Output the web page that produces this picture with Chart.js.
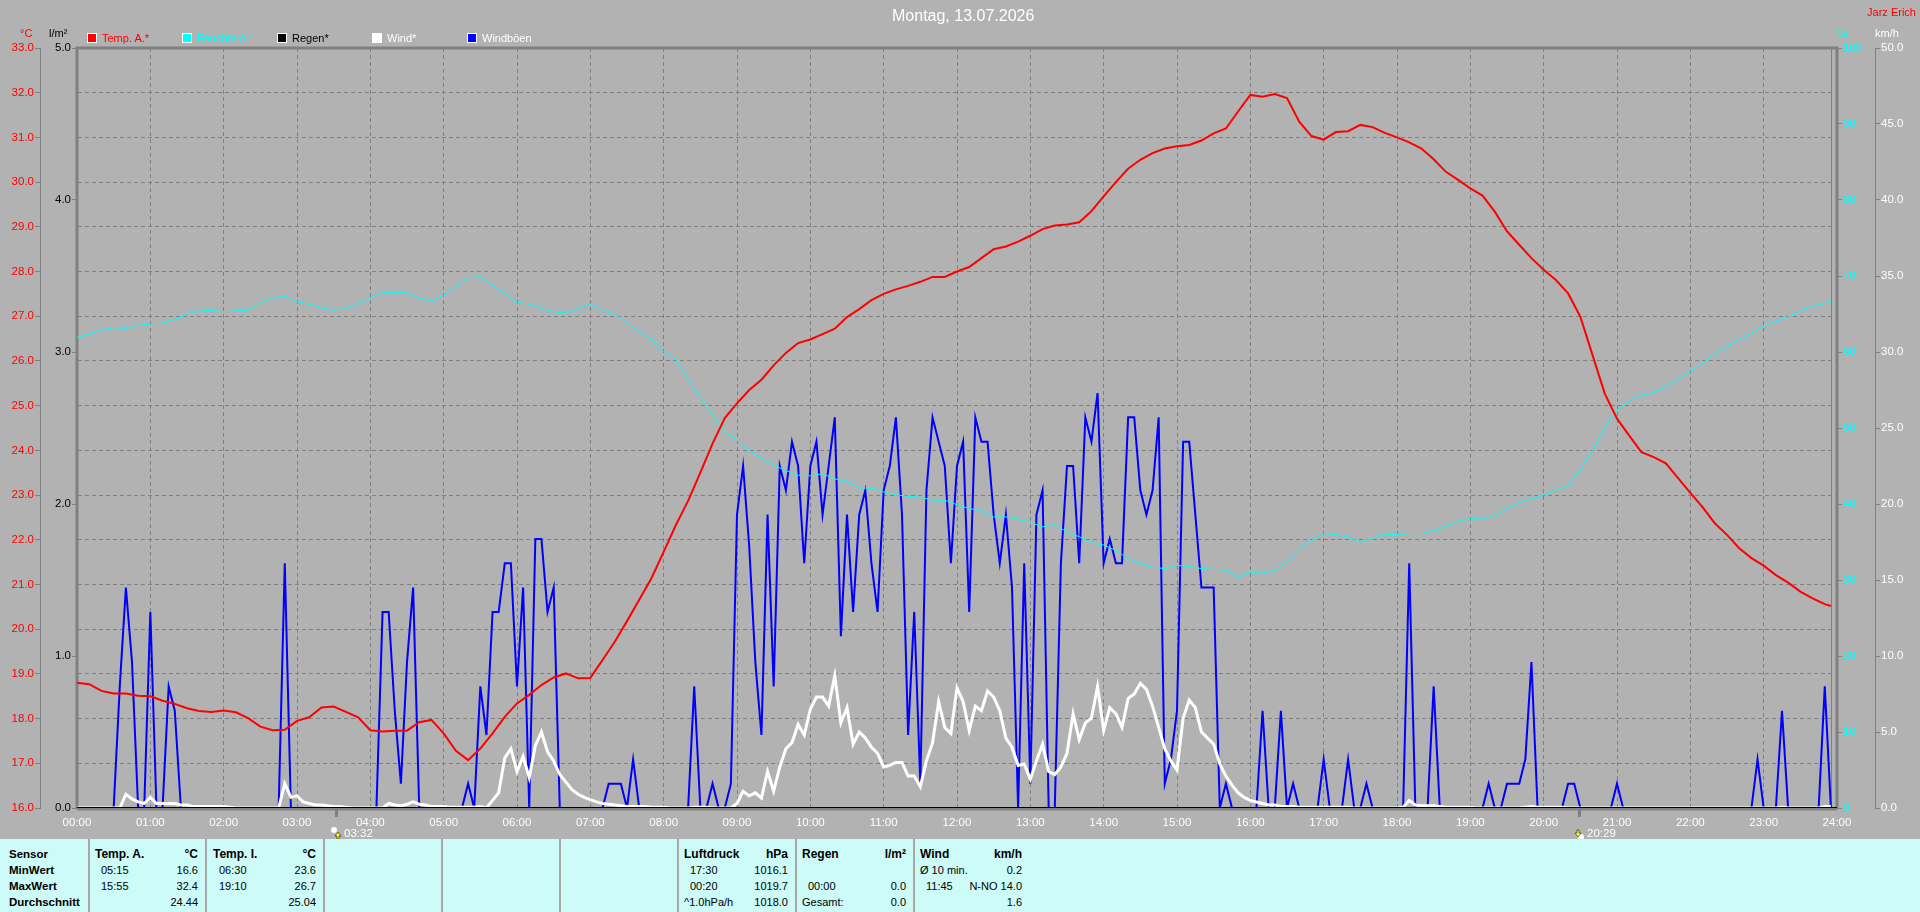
<!DOCTYPE html>
<html lang="de">
<head>
<meta charset="utf-8">
<title>Montag, 13.07.2026</title>
<style>
html,body{margin:0;padding:0;width:1920px;height:912px;overflow:hidden;background:#B2B2B2;font-family:"Liberation Sans",Arial,sans-serif}
#chart{position:absolute;left:0;top:0}
.t{position:absolute;white-space:nowrap;font-size:12px;line-height:14px}
#panel{position:absolute;left:0;top:839px;width:1920px;height:73px;background:#CCFBF8;color:#000}
#panel .t{font-size:11px;line-height:16px;height:16px}
#panel .b{font-weight:bold}
.div{position:absolute;top:0;width:2px;height:73px;background:#A8A8A8}
.sq{position:absolute;top:33px;width:8px;height:8px;border:1px solid #fff}
</style>
</head>
<body>
<canvas id="chart" width="1920" height="839"></canvas>
<div id="over"></div>
<div id="panel"></div>
<script src="https://cdn.jsdelivr.net/npm/chart.js@4/dist/chart.umd.min.js"></script>
<script>
const chartTitle = "Montag, 13.07.2026";
const ownerName = "Jarz Erich";
const legendNames = ["Temp. A.*","Feuchte A.*","Regen*","Wind*","Windböen"];
const legendColors = ["#FF0000","#00FFFF","#000000","#FFFFFF","#0000FF"];
const legendTextColors = ["#FF0000","#00FFFF","#000000","#FFFFFF","#FFFFFF"];
const sunMinutes = [212,1229];
const sunLabels = ["03:32","20:29"];

// temperature, °C: every 10 minutes, last reading 23:55
const tempOutside = [
18.80,18.77,18.62,18.56,18.56,18.51,
18.50,18.40,18.33,18.23,18.17,18.15,
18.18,18.14,18.01,17.82,17.74,17.75,
17.95,18.03,18.25,18.27,18.15,18.03,
17.74,17.71,17.73,17.73,17.92,17.97,
17.67,17.28,17.07,17.33,17.67,18.04,
18.34,18.53,18.75,18.92,19.01,18.90,
18.91,19.31,19.72,20.18,20.66,21.14,
21.73,22.33,22.87,23.50,24.15,24.72,
25.05,25.35,25.58,25.90,26.18,26.40,
26.48,26.60,26.72,26.98,27.16,27.36,
27.50,27.60,27.68,27.77,27.88,27.88,
28.00,28.10,28.30,28.50,28.56,28.67,
28.80,28.95,29.03,29.05,29.10,29.35,
29.68,30.00,30.30,30.50,30.65,30.75,
30.80,30.83,30.93,31.09,31.20,31.58,
31.95,31.91,31.97,31.88,31.35,31.03,
30.95,31.12,31.14,31.28,31.23,31.10,
31.00,30.89,30.75,30.51,30.23,30.05,
29.86,29.70,29.34,28.90,28.60,28.30,
28.04,27.81,27.51,26.99,26.13,25.27,
24.71,24.33,23.96,23.85,23.71,23.38,
23.05,22.73,22.37,22.11,21.81,21.59,
21.42,21.21,21.04,20.84,20.69,20.56,20.52];

// humidity, %: every 10 minutes, last reading 23:55
const humidityOutside = [
61.9,62.4,62.9,63.2,63.1,63.5,
63.7,63.8,64.3,65.0,65.4,65.5,
65.3,65.4,65.5,66.5,67.1,67.4,
66.6,66.3,65.8,65.5,65.7,66.4,
67.1,67.8,67.8,67.8,67.1,66.7,
67.5,68.6,69.8,69.9,68.8,67.7,
66.5,66.3,65.7,65.3,65.1,65.7,
66.3,65.5,65.0,63.8,62.7,61.7,
60.1,59.0,56.3,54.1,51.7,49.5,
48.4,47.0,46.0,45.1,44.4,43.8,
43.7,44.0,43.3,43.0,42.1,42.1,
41.6,41.2,41.0,40.9,40.5,40.5,
39.9,39.4,39.1,38.3,38.3,38.0,
37.6,37.0,37.3,36.3,35.7,34.9,
34.6,33.9,32.8,32.2,31.7,31.5,
31.9,31.8,31.5,31.4,31.3,30.4,
31.0,30.9,31.3,32.4,34.1,35.2,
36.1,36.0,35.6,35.0,35.5,36.0,
36.0,36.1,36.1,36.5,37.1,37.7,
38.1,38.0,38.5,39.4,40.2,40.7,
41.2,41.8,42.5,44.5,47.1,50.1,
52.4,53.5,54.3,54.7,55.4,56.5,
57.4,58.5,59.8,60.7,61.7,62.5,
63.4,64.1,64.6,65.5,66.0,66.4,66.5];

// mean wind, km/h: every 5 minutes
const windMean = [
0,0,0,0,0,0,0,0,.9,.6,.4,.3,
.7,.3,.3,.3,.3,.2,.2,.1,.1,.1,.1,.1,
.1,.05,0,0,0,0,0,0,0,0,1.6,.7,
.8,.4,.3,.2,.2,.15,.1,.1,.05,0,0,0,
0,0,0,.3,.2,.15,.25,.4,.25,.2,.1,.1,
.1,.05,.05,.05,.05,.05,.1,0,.5,1.0,3.3,3.9,
2.4,3.4,2.0,4.1,5.0,3.7,3.1,2.2,1.7,1.2,.9,.7,
.55,.4,.3,.25,.2,.15,.1,.1,.1,.1,.05,.05,
.05,0,0,0,0,.05,.05,.05,0,0,0,0,
.3,1.1,.8,1.0,.66,2.4,1.1,2.7,3.9,4.3,5.5,4.8,
6.5,7.3,7.3,6.7,8.7,5.6,6.6,4.2,5.0,4.6,4.0,3.6,
2.7,2.8,3.0,3.0,2.1,2.1,1.4,3.1,4.3,7.0,5.3,4.9,
7.9,7.0,5.1,6.7,6.4,7.7,7.3,6.4,4.6,4.0,2.8,2.9,
1.9,3.1,4.2,2.4,2.2,2.7,3.6,6.2,4.5,5.6,5.9,8.0,
5.1,6.6,6.2,5.3,7.2,7.5,8.2,7.8,6.7,5.3,3.9,3.1,
2.5,5.9,7.1,6.6,5.0,4.6,4.2,2.9,2.1,1.5,1.0,.7,
.5,.4,.3,.2,.2,.1,.1,.1,.05,.05,.05,.05,
.05,.05,.05,.05,.05,0,0,0,0,0,0,0,
0,.05,.5,.2,.15,.15,.15,.1,.05,.05,.05,.05,
.05,0,0,0,0,0,0,0,0,.05,.1,.05,
.05,.05,.05,.05,0,0,0,0,0,0,0,0,
0,0,0,0,0,0,0,0,0,0,0,0,
0,0,0,0,0,0,0,0,0,0,0,0,
0,0,0,.05,0,0,0,0,0,0,.1,.1];

// gusts, km/h: every 5 minutes
const windGusts = [
0,0,0,0,0,0,0,8.0,14.5,9.6,0,0,
12.9,0,0,8.0,6.4,0,0,0,0,0,0,0,
0,0,0,0,0,0,0,0,0,0,16.1,0,
0,0,0,0,0,0,0,0,0,0,0,0,
0,0,12.9,12.9,6.4,1.6,9.6,14.5,0,0,0,0,
0,0,0,0,1.6,0,8.0,4.8,12.9,12.9,16.1,16.1,
8.0,14.5,0,17.7,17.7,12.9,14.5,0,0,0,0,0,
0,0,0,1.6,1.6,1.6,0,3.2,0,0,0,0,
0,0,0,0,0,8.0,0,0,1.6,0,0,1.6,
19.3,22.5,17.2,9.6,4.8,19.3,8.0,22.5,20.9,24.1,22.5,16.1,
22.5,24.1,19.3,22.5,25.7,11.3,19.3,12.9,19.3,20.9,16.1,12.9,
20.9,22.5,25.7,19.3,4.8,12.9,1.6,20.9,25.7,24.1,22.5,16.1,
22.5,24.1,12.9,25.7,24.1,24.1,19.3,16.1,19.3,14.5,0,16.1,
1.6,19.3,20.9,0,0,16.1,22.5,22.5,16.1,25.7,24.1,27.3,
16.1,17.7,16.1,16.1,25.7,25.7,20.9,19.3,20.9,25.7,1.6,3.2,
6.4,24.1,24.1,19.3,14.5,14.5,14.5,0,1.6,0,0,0,
0,0,6.4,0,0,6.4,0,1.6,0,0,0,0,
3.2,0,0,0,3.2,0,0,1.6,0,0,0,0,
0,0,16.1,0,0,0,8.0,0,0,0,0,0,
0,0,0,1.6,0,0,1.6,1.6,1.6,3.2,9.6,0,
0,0,0,0,1.6,1.6,0,0,0,0,0,0,
1.6,0,0,0,0,0,0,0,0,0,0,0,
0,0,0,0,0,0,0,0,0,0,0,3.2,
0,0,0,6.4,0,0,0,0,0,0,8.0,0];

// rain, l/m²: start and end of the day
const rainMinutes = [0,1440];
const rainValues = [0,0];

// summary table
const statRowNames = ["Sensor","MinWert","MaxWert","Durchschnitt"];
const statTempA = [["Temp. A.","°C"],["05:15","16.6"],["15:55","32.4"],["","24.44"]];
const statTempI = [["Temp. I.","°C"],["06:30","23.6"],["19:10","26.7"],["","25.04"]];
const statPressure = [["Luftdruck","hPa"],["17:30","1016.1"],["00:20","1019.7"],["^1.0hPa/h","1018.0"]];
const statRain = [["Regen","l/m²"],["",""],["00:00","0.0"],["Gesamt:","0.0"]];
const statWind = [["Wind","km/h"],["Ø 10 min.","0.2"],["11:45","N-NO 14.0"],["","1.6"]];

const FONT = '"Liberation Sans",Arial,sans-serif';
const TICK_SIZE = 11.5;
const hhmm = m => String(Math.floor(m/60)).padStart(2,'0')+':'+String(m%60).padStart(2,'0');
const tenMin = a => a.map((y,i)=>({x:i<144?i*10:1435,y}));
const fiveMin = a => a.map((y,i)=>({x:i*5,y}));

function fixW(w){return s=>{s.width=w}}

const framePlugin = {
  id:'frame',
  beforeDatasetsDraw(c){
    const a=c.chartArea,x=c.ctx;
    x.save();
    x.strokeStyle='#808080';x.lineWidth=3;
    x.beginPath();
    x.moveTo(a.left,a.bottom+1);x.lineTo(a.left,a.top);x.lineTo(a.right,a.top);x.lineTo(a.right,a.bottom+1);
    x.moveTo(a.left,a.bottom+1);x.lineTo(a.right,a.bottom+1);
    x.stroke();
    const end=Math.round(c.scales.x.getPixelForValue(1435))+.5;
    x.lineWidth=1;x.beginPath();x.moveTo(end,a.top);x.lineTo(end,a.bottom);x.stroke();
    x.restore();
  },
  afterDraw(c){
    const x=c.ctx,a=c.chartArea,s=c.scales.x;
    x.save();
    sunMinutes.forEach((m,i)=>{
      const p=Math.round(s.getPixelForValue(m));
      x.fillStyle='#808080';x.fillRect(p-1,a.bottom,3,9);
      const rise=i===0;
      x.fillStyle='#FFFFFF';
      x.beginPath();x.arc(rise?p-2:p+2,rise?830:837,3,0,7);x.fill();
      x.fillStyle='#FFFF00';x.strokeStyle='#202020';x.lineWidth=.6;
      x.beginPath();
      const ax=rise?p+2:p-1,ay=rise?832:829,dir=rise?1:-1;
      const tipY=rise?ay:ay+8;
      x.moveTo(ax,tipY);x.lineTo(ax-3,tipY+4*dir);x.lineTo(ax-1,tipY+4*dir);x.lineTo(ax-1,tipY+7*dir);x.lineTo(ax+1,tipY+7*dir);x.lineTo(ax+1,tipY+4*dir);x.lineTo(ax+3,tipY+4*dir);x.closePath();
      x.fill();x.stroke();
      x.fillStyle='#FFFFFF';x.font=TICK_SIZE+'px '+FONT;x.textBaseline='middle';x.textAlign='left';
      x.fillText(sunLabels[i],p+8,834);
    });
    x.restore();
  }
};

new Chart(document.getElementById('chart'),{
  type:'line',
  data:{datasets:[
    {label:legendNames[0],data:tenMin(tempOutside),yAxisID:'yTemp',borderColor:legendColors[0],borderWidth:2,order:1},
    {label:legendNames[1],data:tenMin(humidityOutside),yAxisID:'yHum',borderColor:legendColors[1],borderWidth:1,order:3},
    {label:legendNames[2],data:rainMinutes.map((x,i)=>({x,y:rainValues[i]})),yAxisID:'yRain',borderColor:legendColors[2],borderWidth:2,order:0},
    {label:legendNames[3],data:fiveMin(windMean),yAxisID:'yWind',borderColor:legendColors[3],borderWidth:3,order:2},
    {label:legendNames[4],data:fiveMin(windGusts),yAxisID:'yWind',borderColor:legendColors[4],borderWidth:2,order:4}
  ]},
  plugins:[framePlugin],
  options:{
    responsive:false,animation:false,devicePixelRatio:1,
    layout:{padding:{top:48,left:0,right:0,bottom:0}},
    parsing:false,normalized:true,
    elements:{point:{radius:0},line:{tension:0,borderJoinStyle:'miter',capBezierPoints:false}},
    plugins:{legend:{display:false},title:{display:false},tooltip:{enabled:false}},
    scales:{
      x:{type:'linear',min:0,max:1440,
        afterBuildTicks(s){s.ticks=[];for(let m=0;m<=1440;m+=60)s.ticks.push({value:m})},
        afterFit(s){s.height=31},
        ticks:{color:'#FFFFFF',font:{size:TICK_SIZE,family:FONT},maxRotation:0,autoSkip:false,padding:8,callback:v=>v===1440?'24:00':hhmm(v)},
        grid:{color:'#808080',lineWidth:1,drawTicks:false,tickLength:6},
        border:{display:false,dash:[4,3]}
      },
      yTemp:{position:'left',weight:1,min:16,max:33,
        afterFit:fixW(40),afterBuildTicks(s){s.ticks=[];for(let v=16;v<=33;v++)s.ticks.push({value:v})},
        ticks:{color:'#FF0000',font:{size:TICK_SIZE,family:FONT},padding:1,autoSkip:false,callback:v=>v.toFixed(1)},
        grid:{color:'#808080',lineWidth:1,tickColor:'#808080',tickLength:5,tickBorderDash:[],drawOnChartArea:true},
        border:{color:'#808080',width:1,dash:[4,3]}
      },
      yRain:{position:'left',weight:0,min:0,max:5,
        afterFit:fixW(37),afterBuildTicks(s){s.ticks=[];for(let v=0;v<=5;v++)s.ticks.push({value:v})},
        ticks:{color:'#000000',font:{size:TICK_SIZE,family:FONT},padding:1,autoSkip:false,callback:v=>v.toFixed(1)},
        grid:{drawOnChartArea:false,color:'#808080',tickLength:5},
        border:{display:false}
      },
      yHum:{position:'right',weight:0,min:0,max:100,
        afterFit:fixW(38),afterBuildTicks(s){s.ticks=[];for(let v=0;v<=100;v+=10)s.ticks.push({value:v})},
        ticks:{color:'#00FFFF',font:{size:TICK_SIZE,family:FONT},padding:1,autoSkip:false,callback:v=>String(v)},
        grid:{drawOnChartArea:false,color:'#808080',tickLength:5},
        border:{display:false}
      },
      yWind:{position:'right',weight:1,min:0,max:50,
        afterFit:fixW(45),afterBuildTicks(s){s.ticks=[];for(let v=0;v<=50;v+=5)s.ticks.push({value:v})},
        ticks:{color:'#FFFFFF',font:{size:TICK_SIZE,family:FONT},padding:1,autoSkip:false,callback:v=>v.toFixed(1)},
        grid:{drawOnChartArea:false,color:'#808080',tickLength:5},
        border:{color:'#808080',width:1}
      }
    }
  }
});

// text around the chart
const over=document.getElementById('over');
function put(host,txt,o){
  const e=document.createElement('div');e.className='t'+(o.cls?' '+o.cls:'');e.textContent=txt;
  if(o.right!==undefined){e.style.right=(1920-o.right)+'px'}else{e.style.left=o.left+'px'}
  e.style.top=o.top+'px';
  if(o.color)e.style.color=o.color;
  if(o.size)e.style.fontSize=o.size+'px';
  host.appendChild(e);return e;
}
put(over,chartTitle,{left:892,top:9,color:'#FFFFFF',size:16});
put(over,ownerName,{right:1916,top:5,color:'#FF0000',size:11});
put(over,'°C',{left:20,top:26,color:'#FF0000',size:11});
put(over,'l/m²',{left:49,top:26,color:'#000000',size:11});
put(over,'%',{left:1838,top:26,color:'#00FFFF',size:11});
put(over,'km/h',{left:1875,top:26,color:'#FFFFFF',size:11});
legendNames.forEach((n,i)=>{
  const left=87+i*95;
  const b=document.createElement('div');b.className='sq';b.style.left=left+'px';b.style.background=legendColors[i];over.appendChild(b);
  put(over,n,{left:left+15,top:31,color:legendTextColors[i],size:11});
});

// summary panel
const panel=document.getElementById('panel');
[88,205,323,441,559,677,795,913].forEach(x=>{const d=document.createElement('div');d.className='div';d.style.left=x+'px';panel.appendChild(d)});
const rowY=[7,23,39,55];
statRowNames.forEach((n,i)=>put(panel,n,{left:9,top:rowY[i],cls:'b',size:11.5}));
function col(rows,left,right){
  rows.forEach((r,i)=>{
    const hdr=i===0;
    const indent=(r[0].startsWith('^')||r[0]==='Gesamt:'||r[0].startsWith('Ø'))?0:6;
    if(r[0])put(panel,r[0],{left:hdr?left:left+indent,top:rowY[i],cls:hdr?'b':'',size:hdr?12:11});
    if(r[1])put(panel,r[1],{right,top:rowY[i],cls:hdr?'b':'',size:hdr?12:11});
  });
}
col(statTempA,95,198);
col(statTempI,213,316);
col(statPressure,684,788);
col(statRain,802,906);
col(statWind,920,1022);
</script>
</body>
</html>
